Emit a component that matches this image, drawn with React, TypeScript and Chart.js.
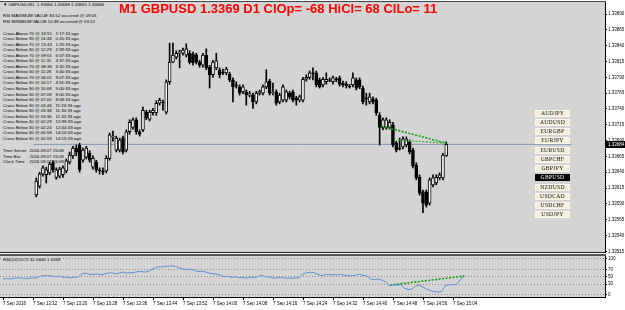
import React, { useEffect, useRef } from "react";
import { Chart, registerables } from "chart.js";
Chart.register(...registerables);

// ---------- DATA ----------
const OPEN = [
  1.33604, 1.33618, 1.33637, 1.33636, 1.33639, 1.33655, 1.33632, 1.33634, 1.33636, 1.33642,
  1.33656, 1.33666, 1.33678, 1.33683, 1.33659, 1.33664, 1.33670, 1.33648, 1.33656, 1.33644,
  1.33642, 1.33642, 1.33662, 1.33696, 1.33675, 1.33675, 1.33694, 1.33675, 1.33704, 1.33711,
  1.33723, 1.33704, 1.33707, 1.33735, 1.33724, 1.33734, 1.33734, 1.33749, 1.33751, 1.33735,
  1.33783, 1.33814, 1.33822, 1.33828, 1.33828, 1.33825, 1.33828, 1.33827, 1.33825, 1.33814,
  1.33809, 1.33825, 1.33806, 1.33794, 1.33805, 1.33802, 1.33798, 1.33797, 1.33795, 1.33786,
  1.33778, 1.33775, 1.33767, 1.33767, 1.33762, 1.33762, 1.33751, 1.33765, 1.33765, 1.33775,
  1.33784, 1.33765, 1.33767, 1.33751, 1.33754, 1.33754, 1.33765, 1.33767, 1.33757, 1.33754,
  1.33754, 1.33787, 1.33790, 1.33797, 1.33797, 1.33786, 1.33778, 1.33783, 1.33786, 1.33783,
  1.33787, 1.33789, 1.33781, 1.33779, 1.33776, 1.33778, 1.33786, 1.33786, 1.33773, 1.33757,
  1.33751, 1.33756, 1.33754, 1.33730, 1.33710, 1.33711, 1.33711, 1.33715, 1.33686, 1.33678,
  1.33680, 1.33683, 1.33688, 1.33675, 1.33651, 1.33632, 1.33609, 1.33609, 1.33591, 1.33620,
  1.33623, 1.33631, 1.33631, 1.33666,
];
const HIGH = [
  1.33631, 1.33640, 1.33650, 1.33648, 1.33656, 1.33658, 1.33647, 1.33648, 1.33650, 1.33661,
  1.33672, 1.33681, 1.33683, 1.33686, 1.33678, 1.33681, 1.33674, 1.33666, 1.33659, 1.33647,
  1.33647, 1.33666, 1.33702, 1.33705, 1.33697, 1.33694, 1.33697, 1.33707, 1.33723, 1.33726,
  1.33726, 1.33707, 1.33743, 1.33738, 1.33738, 1.33741, 1.33753, 1.33757, 1.33754, 1.33786,
  1.33844, 1.33844, 1.33832, 1.33833, 1.33836, 1.33843, 1.33832, 1.33830, 1.33828, 1.33817,
  1.33828, 1.33835, 1.33809, 1.33817, 1.33828, 1.33805, 1.33803, 1.33806, 1.33798, 1.33789,
  1.33783, 1.33778, 1.33778, 1.33770, 1.33768, 1.33765, 1.33768, 1.33770, 1.33778, 1.33802,
  1.33787, 1.33781, 1.33770, 1.33765, 1.33778, 1.33770, 1.33768, 1.33770, 1.33760, 1.33762,
  1.33790, 1.33794, 1.33800, 1.33805, 1.33800, 1.33789, 1.33790, 1.33797, 1.33789, 1.33792,
  1.33790, 1.33792, 1.33784, 1.33783, 1.33779, 1.33797, 1.33789, 1.33789, 1.33776, 1.33765,
  1.33765, 1.33759, 1.33757, 1.33734, 1.33726, 1.33726, 1.33723, 1.33719, 1.33689, 1.33694,
  1.33696, 1.33696, 1.33691, 1.33678, 1.33655, 1.33636, 1.33612, 1.33612, 1.33631, 1.33636,
  1.33636, 1.33639, 1.33670, 1.33688,
];
const LOW = [
  1.33601, 1.33615, 1.33634, 1.33623, 1.33636, 1.33640, 1.33629, 1.33631, 1.33632, 1.33639,
  1.33653, 1.33662, 1.33666, 1.33640, 1.33656, 1.33661, 1.33656, 1.33645, 1.33640, 1.33637,
  1.33636, 1.33639, 1.33659, 1.33689, 1.33672, 1.33672, 1.33669, 1.33672, 1.33700, 1.33708,
  1.33700, 1.33697, 1.33704, 1.33723, 1.33721, 1.33730, 1.33730, 1.33746, 1.33738, 1.33732,
  1.33779, 1.33813, 1.33819, 1.33805, 1.33825, 1.33822, 1.33811, 1.33809, 1.33811, 1.33806,
  1.33806, 1.33802, 1.33773, 1.33790, 1.33802, 1.33789, 1.33794, 1.33794, 1.33783, 1.33751,
  1.33773, 1.33762, 1.33764, 1.33746, 1.33759, 1.33741, 1.33748, 1.33762, 1.33762, 1.33772,
  1.33762, 1.33762, 1.33746, 1.33748, 1.33751, 1.33751, 1.33756, 1.33751, 1.33746, 1.33751,
  1.33751, 1.33784, 1.33787, 1.33786, 1.33775, 1.33773, 1.33775, 1.33779, 1.33783, 1.33779,
  1.33783, 1.33776, 1.33775, 1.33773, 1.33773, 1.33775, 1.33770, 1.33772, 1.33748, 1.33746,
  1.33748, 1.33748, 1.33730, 1.33683, 1.33707, 1.33708, 1.33708, 1.33680, 1.33672, 1.33675,
  1.33677, 1.33680, 1.33669, 1.33647, 1.33628, 1.33604, 1.33576, 1.33585, 1.33588, 1.33617,
  1.33620, 1.33628, 1.33628, 1.33665,
];
const CLOSE = [
  1.33626, 1.33637, 1.33647, 1.33644, 1.33653, 1.33644, 1.33644, 1.33645, 1.33647, 1.33658,
  1.33667, 1.33678, 1.33672, 1.33644, 1.33675, 1.33678, 1.33659, 1.33662, 1.33644, 1.33642,
  1.33640, 1.33662, 1.33699, 1.33697, 1.33694, 1.33691, 1.33672, 1.33704, 1.33719, 1.33723,
  1.33704, 1.33700, 1.33738, 1.33726, 1.33735, 1.33738, 1.33749, 1.33754, 1.33750, 1.33783,
  1.33814, 1.33825, 1.33828, 1.33830, 1.33833, 1.33835, 1.33814, 1.33813, 1.33814, 1.33809,
  1.33825, 1.33805, 1.33794, 1.33814, 1.33816, 1.33794, 1.33797, 1.33803, 1.33786, 1.33775,
  1.33777, 1.33765, 1.33775, 1.33762, 1.33764, 1.33751, 1.33765, 1.33767, 1.33775, 1.33783,
  1.33765, 1.33766, 1.33749, 1.33762, 1.33775, 1.33767, 1.33759, 1.33754, 1.33754, 1.33759,
  1.33787, 1.33790, 1.33797, 1.33796, 1.33778, 1.33775, 1.33787, 1.33787, 1.33785, 1.33789,
  1.33786, 1.33779, 1.33778, 1.33776, 1.33775, 1.33789, 1.33773, 1.33775, 1.33751, 1.33756,
  1.33759, 1.33751, 1.33734, 1.33711, 1.33723, 1.33723, 1.33719, 1.33683, 1.33675, 1.33677,
  1.33693, 1.33693, 1.33672, 1.33650, 1.33631, 1.33607, 1.33591, 1.33588, 1.33628, 1.33631,
  1.33632, 1.33636, 1.33667, 1.33684,
];
const RSI = [
  44, 45, 44, 46, 47, 46, 45, 46, 47, 47,
  52, 53, 53, 52, 50, 52, 48, 49, 47, 48,
  49, 57, 60, 57, 56, 58, 55, 57, 60, 61,
  58, 60, 63, 60, 61, 62, 64, 64, 63, 66,
  72, 76, 77, 78, 79, 80, 78, 74, 71, 70,
  71, 68, 64, 65, 63, 60, 58, 57, 54, 50,
  51, 48, 50, 47, 48, 46, 49, 48, 50, 55,
  49, 50, 46, 47, 48, 47, 46, 46, 47, 47,
  58, 61, 62, 61, 56, 53, 56, 55, 56, 55,
  56, 54, 53, 53, 54, 57, 54, 52, 44, 42,
  44, 41, 36, 26, 28, 27, 28, 19, 15, 16,
  24, 27, 22, 16, 12, 9, 8, 10, 26, 28,
  28, 30, 42, 51,
];
const PRICE_TICKS = [
  1.3389, 1.33865, 1.3384, 1.33815, 1.3379, 1.33765, 1.3374, 1.33715,
  1.3369, 1.33665, 1.3364, 1.33615, 1.3359, 1.33565, 1.3354, 1.33515,
];
const RSI_LEVELS = [0, 30, 50, 70, 100];
const TIME_TICK_BARS = [0, 8, 16, 24, 32, 40, 48, 56, 64, 72, 80, 88, 96, 104, 112, 120];
const TIME_LABELS = [
  "7 Sep 2016", "7 Sep 13:12", "7 Sep 13:20", "7 Sep 13:28", "7 Sep 13:36", "7 Sep 13:44",
  "7 Sep 13:52", "7 Sep 14:00", "7 Sep 14:08", "7 Sep 14:16", "7 Sep 14:24", "7 Sep 14:32",
  "7 Sep 14:40", "7 Sep 14:48", "7 Sep 14:56", "7 Sep 15:04",
];
const TREND1_X = [103.5, 123];
const TREND1_Y = [1.33713, 1.33686];
const TREND2_X = [108.5, 123];
const TREND2_Y = [1.33691, 1.33686];
const RSI_TREND_X = [103.2, 123];
const RSI_TREND_Y = [27, 52];
const SYMBOLS = ["AUDJPY", "AUDUSD", "EURGBP", "EURJPY", "EURUSD", "GBPCHF", "GBPJPY", "GBPUSD", "NZDUSD", "USDCAD", "USDCHF", "USDJPY"];
const ACTIVE_SYMBOL = "GBPUSD";
const TITLE = "M1 GBPUSD 1.3369 D1 ClOp= -68 HiCl= 68 ClLo= 11";
const HEADER = "▼ GBPUSD,M1  1.33666 1.33688 1.33665 1.33684";
const RSI_TITLE = "RSI(14) DCV 32.5846 1.3368";
const RSI_EXTREMES = [
  "RSI MAXIMUM VALUE 84.52 occurred @ 09:05",
  "RSI MINIMUM VALUE 10.89 occurred @ 03:22",
];
const CROSS_EVENTS = [
  "Cross Above 70 @ 13:51", "Cross Below 30 @ 14:48", "Cross Above 70 @ 13:43", "Cross Below 30 @ 12:29",
  "Cross Above 70 @ 09:01", "Cross Below 30 @ 11:31", "Cross Above 70 @ 08:36", "Cross Below 30 @ 11:28",
  "Cross Above 70 @ 06:01", "Cross Below 30 @ 10:17", "Cross Below 30 @ 10:08", "Cross Below 30 @ 07:08",
  "Cross Below 30 @ 07:00", "Cross Below 30 @ 03:44", "Cross Below 30 @ 03:38", "Cross Below 30 @ 03:36",
  "Cross Below 30 @ 02:29", "Cross Below 30 @ 02:24", "Cross Below 30 @ 00:58", "Cross Below 30 @ 00:53",
];
const CROSS_AGO = [
  "1:17:33 ago", "0:20:33 ago", "1:25:33 ago", "2:39:33 ago", "6:07:33 ago", "3:37:33 ago", "6:32:33 ago",
  "3:40:33 ago", "9:07:33 ago", "4:51:33 ago", "5:00:33 ago", "8:00:33 ago", "8:08:33 ago", "11:24:33 ago",
  "11:30:33 ago", "11:32:33 ago", "12:39:33 ago", "12:44:33 ago", "14:10:33 ago", "14:15:33 ago",
];
const TIME_INFO = [
  ["Time Server", "2016.09.07 15:08"],
  ["Time Bar", "2016.09.07 15:08"],
  ["Clock Time", "2016.09.07 16:08"],
];

// ---------- LAYOUT / STYLE ----------
const W = 625;
const MAIN_H = 253;
const RSI_TOP = 253;
const RSI_H = 57;
const AXIS_W = 20;
const X_MIN = -0.8;
const X_MAX = 160.53;
const P_MAX = 1.33909;
const P_MIN = 1.33514;
const R_MAX = 106.8;
const R_MIN = -5.5;
const BG = "#d4d4d4";
const SMALL = '"Liberation Sans", Arial, sans-serif';

const zeroPad = (s: any) => {
  s.paddingTop = 0;
  s.paddingBottom = 0;
  s.paddingLeft = 0;
  s.paddingRight = 0;
};

const priceLabelPlugin = {
  id: "priceLabel",
  afterDraw(chart: any) {
    const { ctx, chartArea, scales } = chart;
    const last = CLOSE[CLOSE.length - 1];
    const y = Math.round(scales.y.getPixelForValue(last));
    ctx.save();
    ctx.fillStyle = "#000";
    ctx.fillRect(chartArea.right + 1, y - 3, AXIS_W - 1, 7);
    ctx.fillStyle = "#fff";
    ctx.font = `4.5px ${SMALL}`;
    ctx.textBaseline = "middle";
    ctx.fillText(last.toFixed(5), chartArea.right + 3, y + 0.5);
    ctx.restore();
  },
};

export default function App() {
  const mainRef = useRef<HTMLCanvasElement>(null);
  const rsiRef = useRef<HTMLCanvasElement>(null);

  useEffect(() => {
    document.body.style.margin = "0";
    const idx = CLOSE.map((_, i) => i);
    const last = CLOSE[CLOSE.length - 1];
    const main = new Chart(mainRef.current as HTMLCanvasElement, {
      type: "bar",
      data: {
        datasets: [
          {
            type: "line",
            data: [{ x: X_MIN, y: last }, { x: X_MAX, y: last }],
            borderColor: "#8497ad",
            borderWidth: 1,
            pointRadius: 0,
            order: 5,
          } as any,
          {
            data: idx.map((i) => ({ x: i, y: [LOW[i], HIGH[i]] })),
            backgroundColor: "#000",
            borderWidth: 0,
            barThickness: 1,
            grouped: false,
            order: 3,
          } as any,
          {
            data: idx.map((i) => ({ x: i, y: [OPEN[i], CLOSE[i]] })),
            backgroundColor: idx.map((i) => (CLOSE[i] >= OPEN[i] ? "#ffffff" : "#000000")),
            borderColor: "#000",
            borderWidth: 1,
            borderSkipped: false,
            barThickness: 3,
            grouped: false,
            order: 2,
          } as any,
          {
            type: "line",
            data: TREND1_X.map((x, k) => ({ x, y: TREND1_Y[k] })),
            borderColor: "#149a14",
            borderWidth: 1.6,
            borderDash: [2, 1.5],
            pointRadius: 0,
            order: 1,
          } as any,
          {
            type: "line",
            data: TREND2_X.map((x, k) => ({ x, y: TREND2_Y[k] })),
            borderColor: "#30b030",
            borderWidth: 1.2,
            borderDash: [2, 1.5],
            pointRadius: 0,
            order: 1,
          } as any,
        ],
      },
      options: {
        animation: false,
        responsive: false,
        maintainAspectRatio: false,
        devicePixelRatio: 1,
        layout: { padding: { left: 0, right: 0, top: 2, bottom: 1 } },
        plugins: { legend: { display: false }, tooltip: { enabled: false } },
        scales: {
          x: { type: "linear", min: X_MIN, max: X_MAX, display: false },
          y: {
            position: "right",
            min: P_MIN,
            max: P_MAX,
            afterFit: (s: any) => {
              s.width = AXIS_W;
              zeroPad(s);
            },
            afterBuildTicks: (s: any) => {
              s.ticks = PRICE_TICKS.map((v) => ({ value: v }));
            },
            ticks: {
              font: { size: 4.5, family: SMALL },
              color: "#000",
              padding: 1,
              autoSkip: false,
              callback: (v: any) => Number(v).toFixed(5),
            },
            grid: { drawOnChartArea: false, tickLength: 2, color: "#000" },
            border: { color: "#000", width: 1 },
          },
        },
      } as any,
      plugins: [priceLabelPlugin],
    });

    const rsi = new Chart(rsiRef.current as HTMLCanvasElement, {
      type: "line",
      data: {
        datasets: [
          {
            data: RSI.map((v, i) => ({ x: i, y: v })),
            borderColor: "#5b90d2",
            borderWidth: 1,
            pointRadius: 0,
            tension: 0,
          },
          {
            data: RSI_TREND_X.map((x, k) => ({ x, y: RSI_TREND_Y[k] })),
            borderColor: "#149a14",
            borderWidth: 1.6,
            borderDash: [2, 1.5],
            pointRadius: 0,
          },
        ],
      },
      options: {
        animation: false,
        responsive: false,
        maintainAspectRatio: false,
        devicePixelRatio: 1,
        layout: { padding: { left: 0, right: 0, top: 3, bottom: 0 } },
        plugins: { legend: { display: false }, tooltip: { enabled: false } },
        scales: {
          x: {
            type: "linear",
            min: X_MIN,
            max: X_MAX,
            afterFit: (s: any) => {
              s.height = 13;
              zeroPad(s);
            },
            afterBuildTicks: (s: any) => {
              s.ticks = TIME_TICK_BARS.map((v) => ({ value: v }));
            },
            ticks: {
              align: "start",
              maxRotation: 0,
              autoSkip: false,
              font: { size: 4.5, family: SMALL },
              color: "#000",
              padding: 1,
              callback: (_v: any, i: number) => TIME_LABELS[i],
            },
            grid: { drawOnChartArea: false, tickLength: 3, color: "#000" },
            border: { color: "#000", width: 1 },
          },
          y: {
            position: "right",
            min: R_MIN,
            max: R_MAX,
            afterFit: (s: any) => {
              s.width = AXIS_W;
              zeroPad(s);
            },
            afterBuildTicks: (s: any) => {
              s.ticks = RSI_LEVELS.map((v) => ({ value: v }));
            },
            ticks: { font: { size: 4.5, family: SMALL }, color: "#000", padding: 1 },
            grid: { color: "#8a8a8a", tickColor: "#000", tickLength: 2, lineWidth: 1 },
            border: { color: "#000", width: 1, dash: [1, 2] },
          },
        },
      } as any,
    });

    return () => {
      main.destroy();
      rsi.destroy();
    };
  }, []);

  const small: React.CSSProperties = {
    position: "absolute",
    fontFamily: SMALL,
    fontSize: "4.4px",
    lineHeight: "5.55px",
    color: "#000",
    whiteSpace: "pre",
  };

  return (
    <div style={{ position: "fixed", left: 0, top: 0, width: W, height: 310, background: "#fff", overflow: "hidden" }}>
      <div style={{ position: "absolute", left: 0, top: 2, width: 605, height: 250, background: BG }} />
      <div style={{ position: "absolute", left: 0, top: 256, width: 605, height: 41, background: BG }} />
      <div style={{ position: "absolute", left: 0, top: 1, width: 606, height: 1, background: "#444" }} />
      <div style={{ position: "absolute", left: 0, top: 252, width: 606, height: 1, background: "#222" }} />
      <div style={{ position: "absolute", left: 0, top: 254, width: 606, height: 2, background: "#555" }} />

      <div style={{ ...small, left: 3, top: 2.2 }}>{HEADER}</div>
      <div style={{ ...small, left: 3, top: 13 }}>{RSI_EXTREMES.join("\n")}</div>
      <div style={{ ...small, left: 3, top: 30.5 }}>{CROSS_EVENTS.join("\n")}</div>
      <div style={{ ...small, left: 55.5, top: 30.5 }}>{CROSS_AGO.join("\n")}</div>
      <div style={{ ...small, left: 3, top: 148.2 }}>{TIME_INFO.map((r) => r[0]).join("\n")}</div>
      <div style={{ ...small, left: 29.5, top: 148.2 }}>{TIME_INFO.map((r) => r[1]).join("\n")}</div>
      <div style={{ ...small, left: 3, top: 256.5 }}>{RSI_TITLE}</div>

      <canvas ref={mainRef} width={W} height={MAIN_H} style={{ position: "absolute", left: 0, top: 0 }} />
      <canvas ref={rsiRef} width={W} height={RSI_H} style={{ position: "absolute", left: 0, top: RSI_TOP }} />

      <div
        style={{
          position: "absolute",
          left: 119,
          top: 2,
          fontFamily: '"Liberation Sans", Arial, sans-serif',
          fontWeight: "bold",
          fontSize: "13px",
          lineHeight: "13px",
          color: "#ff0000",
          whiteSpace: "pre",
        }}
      >
        {TITLE}
      </div>

      {SYMBOLS.map((s, k) => {
        const active = s === ACTIVE_SYMBOL;
        return (
          <div
            key={s}
            style={{
              position: "absolute",
              left: 535,
              top: 109.5 + k * 9.25,
              width: 35,
              height: 7,
              boxSizing: "border-box",
              background: active ? "#000" : "#f3efdc",
              border: active ? "1px solid #000" : "1px solid #fbf9ee",
              color: active ? "#fff" : "#111",
              fontFamily: '"Liberation Serif", "Times New Roman", serif',
              fontSize: "5.6px",
              lineHeight: "5px",
              textAlign: "center",
              letterSpacing: "0.3px",
            }}
          >
            {s}
          </div>
        );
      })}
    </div>
  );
}
